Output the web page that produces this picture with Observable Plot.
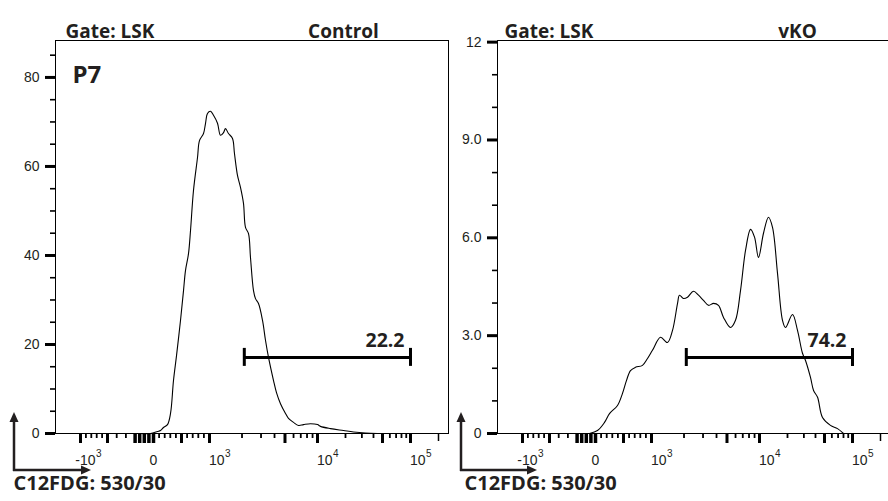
<!DOCTYPE html>
<html><head><meta charset="utf-8">
<script src="https://cdn.jsdelivr.net/npm/d3@7"></script>
<script src="https://cdn.jsdelivr.net/npm/@observablehq/plot@0.6"></script>
<style>
html,body{margin:0;padding:0;background:#fff;overflow:hidden;width:888px;height:501px;}
#wrap{position:relative;width:888px;height:501px;overflow:hidden;}
#wrap > svg, #wrap > figure{position:absolute;top:0;margin:0;}
</style></head><body><div id="wrap"></div>
<script>
// ---- data ----
const panelTitles = ["Control", "vKO"];
const gateName = "Gate: LSK";
const axisTitle = "C12FDG: 530/30";
const ageTag = "P7";
// fluorescence value (C12FDG) and event count
const controlX = [-140,-33,71,125,179,250,304,357,411,482,536,571,625,661,714,786,821,893,929,964,1021,1089,1186,1264,1348,1406,1499,1633,1703,1816,1936,2064,2154,2297,2397,2555,2666,2842,3097,3302,3519,3916,4171,4543,5054,5387,5995,6674,7430,8607,10000,10770,13800,19040,24400,32800,44100];
const controlY = [0,0,0.45,0.67,1.35,2.0,4.5,11.9,17.5,25.4,32.1,36.6,40.4,45.6,54.6,62.0,65.8,67.4,69.7,71.9,72.4,71.5,69.7,67.0,67.6,68.5,67.4,66.3,62.9,58.0,55.3,51.7,46.3,44.9,39.5,32.1,30.3,29.2,25.4,20.9,17.1,11.9,9.2,6.7,4.5,3.4,2.5,1.8,2.0,2.2,2.0,1.6,1.1,0.67,0.34,0.1,0];
const vkoX = [-65,36,161,250,393,482,554,625,714,839,929,1021,1212,1406,1565,1742,1816,1978,2154,2448,2725,3030,3373,3752,4171,4642,5387,5995,6674,7430,8264,8993,9789,11040,12490,13800,15620,17670,19040,22650,25630,28990,31240,35340,38130,42100,47570,57960,69000,80000];
const vkoY = [0,0.09,0.34,0.61,0.86,1.23,1.63,1.93,2.03,2.09,2.30,2.55,2.95,2.79,3.16,3.99,4.24,4.14,4.18,4.36,4.24,4.08,3.93,3.99,3.93,3.56,3.25,3.47,4.39,5.62,6.26,6.02,5.40,6.14,6.63,6.32,4.91,3.47,3.25,3.65,3.16,2.46,2.24,1.72,1.32,1.11,0.49,0.25,0.15,0];
const gateLow = [2100, 2100];
const gateHigh = [100000, 100000];
const gateLevel = [17.1, 2.33];
const gatePercent = [22.2, 74.2];
const yTop = [88.3, 12.05];
const yMajorTicks = [[0,20,40,60,80],[0,3,6,9,12]];
const yMajorLabels = [["0","20","40","60","80"],["0","3.0","6.0","9.0","12"]];
const yMinorTicks = [[5,10,15,25,30,35,45,50,55,65,70,75,85],[1,2,4,5,7,8,10,11]];
const xLabelTicks = [-1000, 1000, 10000, 100000];
const xLabelBase = ["-10", "10", "10", "10"];
const xLabelExp = ["3", "3", "4", "5"];
const xZeroLabel = "0";
const xBigTicks = [-1000,-500,500,1000,5000,10000,50000,100000];
const xZeroTicks = [-200,-150,-100,-50,0];
const xMinorTicks = [-900,-800,-700,-600,-400,-300,100,200,300,400,600,700,800,900,2000,3000,4000,6000,7000,8000,9000,20000,30000,40000,60000,70000,80000,90000];
const xFarTicks = [200000];

// biexponential display transform (FlowJo-like)
function biex(v){
  if (v >= 10000) return 164 + (Math.log10(v) - 4) * 93;
  if (v >= 1000) return 56 + (Math.log10(v) - 3) * 108;
  if (v >= 0) return 56 * v / 1000;
  if (v >= -500) return 46 * v / 500;
  return -46 + 27 * (v + 500) / 500;
}

const ink = "#231f20";
const numFont = "'Liberation Sans', Arial, sans-serif";
const headFont = "'Open Sans', sans-serif";

function panel(i){
  const xs = i === 0 ? controlX : vkoX;
  const ys = i === 0 ? controlY : vkoY;
  const data = xs.map((v, k) => ({u: biex(v), c: ys[k]}));
  const h = 9 * yTop[i] / 393;
  const marks = [
    Plot.frame({stroke: "#000", strokeWidth: 1}),
    Plot.line(data, {x: "u", y: "c", curve: "catmull-rom", stroke: "#000", strokeWidth: 1.1}),
    Plot.axisY(yMajorTicks[i], {tickSize: 10, strokeWidth: 3, stroke: "#000", label: null, tickFormat: () => ""}),
    Plot.text(yMajorTicks[i].map((t, k) => ({t, s: yMajorLabels[i][k]})), {y: "t", text: "s", frameAnchor: "left", textAnchor: "end", dx: -16, fontSize: 14, fontFamily: numFont, fill: ink}),
    Plot.axisY(yMinorTicks[i], {tickSize: 5, strokeWidth: 1.6, stroke: "#000", label: null, tickFormat: () => ""}),
    Plot.axisX(xBigTicks.map(biex), {tickSize: 10, strokeWidth: 3, stroke: "#000", label: null, tickFormat: () => ""}),
    Plot.axisX(xZeroTicks.map(biex), {tickSize: 10, strokeWidth: 3.5, stroke: "#000", label: null, tickFormat: () => ""}),
    Plot.axisX(xMinorTicks.map(biex), {tickSize: 5, strokeWidth: 1.8, stroke: "#000", label: null, tickFormat: () => ""}),
    Plot.axisX(xFarTicks.map(biex), {tickSize: 8, strokeWidth: 1.5, stroke: "#000", label: null, tickFormat: () => ""}),
    Plot.text(xLabelTicks.map((t, k) => ({u: biex(t), s: xLabelBase[k]})), {x: "u", text: "s", frameAnchor: "bottom", textAnchor: "end", dx: 15, dy: 31, fontSize: 14, fontFamily: numFont, fill: ink}),
    Plot.text(xLabelTicks.map((t, k) => ({u: biex(t), s: xLabelExp[k]})), {x: "u", text: "s", frameAnchor: "bottom", textAnchor: "start", dx: 15.5, dy: 23, fontSize: 10, fontFamily: numFont, fill: ink}),
    Plot.text([{u: biex(0), s: xZeroLabel}], {x: "u", text: "s", frameAnchor: "bottom", textAnchor: "middle", dy: 31, fontSize: 14, fontFamily: numFont, fill: ink}),
    // gate
    Plot.ruleY([gateLevel[i]], {x1: biex(gateLow[i]), x2: biex(gateHigh[i]), stroke: "#000", strokeWidth: 3}),
    Plot.ruleX([biex(gateLow[i]), biex(gateHigh[i])], {y1: gateLevel[i] - h, y2: gateLevel[i] + h, stroke: "#000", strokeWidth: 3}),
    Plot.text([gatePercent[i]], {x: biex(gateHigh[i]), y: gateLevel[i], text: d => d.toFixed(1), textAnchor: "end", dx: -6, dy: -17, fontSize: 19.5, fontWeight: 700, fontFamily: headFont, fill: ink}),
    // headers
    Plot.text([gateName], {frameAnchor: "top-left", textAnchor: "start", dx: i === 0 ? 10 : 7, dy: -16, fontSize: 19, fontWeight: 700, fontFamily: headFont, fill: ink}),
    Plot.text([panelTitles[i]], {frameAnchor: "top-left", textAnchor: "middle", dx: i === 0 ? 288 : 300, dy: -16, fontSize: 19, fontWeight: 700, fontFamily: headFont, fill: ink}),
    Plot.text([axisTitle], {frameAnchor: "bottom-left", textAnchor: "start", dx: i === 0 ? -42 : -33, dy: 56, fontSize: 20, fontWeight: 700, fontFamily: headFont, fill: ink})
  ];
  if (i === 0) marks.push(Plot.text([ageTag], {frameAnchor: "top-left", textAnchor: "start", dx: 17, dy: 25, fontSize: 24, fontWeight: 700, fontFamily: headFont, fill: ink}));
  const svg = Plot.plot({
    width: i === 0 ? 450 : 448,
    height: 501,
    marginLeft: 55, marginRight: i === 0 ? 2 : 0, marginTop: 40, marginBottom: 68,
    x: {domain: [-98, 295], label: null},
    y: {domain: [0, yTop[i]], label: null},
    style: {background: "transparent", overflow: "visible"},
    marks
  });
  svg.style.left = (i === 0 ? 0 : 442) + "px";
  return svg;
}

const wrap = document.getElementById("wrap");
wrap.appendChild(panel(0));
wrap.appendChild(panel(1));

// axis-direction arrows (decoration)
const ns = "http://www.w3.org/2000/svg";
const ov = document.createElementNS(ns, "svg");
ov.setAttribute("width", 888); ov.setAttribute("height", 501);
ov.style.left = "0px";
ov.innerHTML = [[14, 412, 91], [461, 412, 537]].map(([x, yTopA, xr]) =>
  `<path d="M${x},471 V${yTopA + 8} M${x - 1},470 H${xr - 8}" stroke="${ink}" stroke-width="2.5" fill="none"/>` +
  `<path d="M${x},${yTopA} L${x - 4.5},${yTopA + 10} L${x + 4.5},${yTopA + 10} Z" fill="${ink}"/>` +
  `<path d="M${xr},470 L${xr - 10},465.5 L${xr - 10},474.5 Z" fill="${ink}"/>`).join("");
wrap.appendChild(ov);
</script></body></html>
